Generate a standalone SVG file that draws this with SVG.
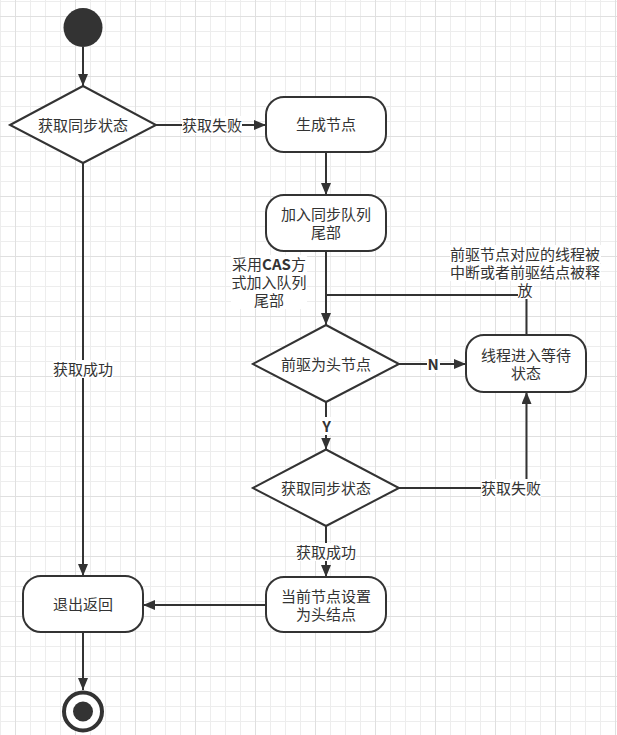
<svg xmlns="http://www.w3.org/2000/svg" width="617" height="735" viewBox="0 0 617 735">
<style>
.t{font-family:"Noto Sans CJK SC","Microsoft YaHei",sans-serif;font-size:15px;fill:#333;text-anchor:middle}
.b{font-weight:bold}
.shape{fill:#fff;stroke:#333;stroke-width:2}
.edge{fill:none;stroke:#333;stroke-width:2}
.arr{marker-end:url(#ah)}
.lbg{fill:#fff}
</style>
<defs>
<pattern id="gmin" patternUnits="userSpaceOnUse" x="0" y="1" width="15" height="15">
<path d="M0.5 0V15M0 0.5H15" stroke="#ededed" stroke-width="1" fill="none"/>
</pattern>
<pattern id="gmaj" patternUnits="userSpaceOnUse" x="15" y="16" width="60" height="60">
<path d="M0.5 0V60M0 0.5H60" stroke="#e0e0e0" stroke-width="1" fill="none"/>
</pattern>
<marker id="ah" markerUnits="userSpaceOnUse" markerWidth="13" markerHeight="11" refX="12" refY="5" orient="auto">
<path d="M0,0 L12,5 L0,10 Z" fill="#333"/>
</marker>
</defs>
<rect width="617" height="735" fill="#fff"/>
<rect width="617" height="735" fill="url(#gmin)"/>
<rect width="617" height="735" fill="url(#gmaj)"/>

<g id="edges">
<g id="e1"><path class="edge arr" d="M83 47V86"/></g>
<g id="e2"><path class="edge arr" d="M156 125H266"/><rect class="lbg" x="182" y="116" width="60" height="18"/><text class="t" x="212" y="130.5">获取失败</text></g>
<g id="e3"><path class="edge arr" d="M326 152V195"/></g>
<g id="e4"><path class="edge arr" d="M326 251V325"/><rect class="lbg" x="231" y="255" width="76" height="54"/><text class="t" x="269" y="269.5">采用<tspan class="b">CAS</tspan>方<tspan x="269" dy="18">式加入队列</tspan><tspan x="269" dy="18">尾部</tspan></text></g>
<g id="e5"><path class="edge" d="M526.5 335V295H326"/><rect class="lbg" x="450" y="245" width="151" height="18"/><rect class="lbg" x="450" y="264" width="151" height="17"/><rect class="lbg" x="518" y="282" width="16" height="17"/><text class="t" x="525" y="259.5">前驱节点对应的线程被<tspan x="525" dy="18">中断或者前驱结点被释</tspan><tspan x="525" dy="18">放</tspan></text></g>
<g id="e6"><path class="edge arr" d="M399 364H466"/><rect class="lbg" x="427" y="355" width="13" height="18"/><text class="t b" x="433" y="369.5">N</text></g>
<g id="e7"><path class="edge arr" d="M326 402V449.5"/><rect class="lbg" x="320" y="417" width="13" height="18"/><text class="t b" x="326.5" y="431.5">Y</text></g>
<g id="e8"><path class="edge arr" d="M399 488H526.5V392"/><rect class="lbg" x="481" y="479" width="60" height="18"/><text class="t" x="511" y="493.5">获取失败</text></g>
<g id="e9"><path class="edge arr" d="M326 526V577"/><rect class="lbg" x="296" y="543" width="60" height="18"/><text class="t" x="326" y="557.5">获取成功</text></g>
<g id="e10"><path class="edge arr" d="M266 605H143"/></g>
<g id="e11"><path class="edge arr" d="M83 163V576"/><rect class="lbg" x="53" y="360" width="60" height="18"/><text class="t" x="83" y="374.5">获取成功</text></g>
<g id="e12"><path class="edge arr" d="M83 632V690"/></g>
</g>

<g id="start"><circle cx="83" cy="27.5" r="19.5" fill="#333"/></g>
<g id="d1"><polygon class="shape" points="10,125 83,86 156,125 83,163"/><text class="t" x="83" y="130.5">获取同步状态</text></g>
<g id="n1"><rect class="shape" x="266" y="97" width="120" height="55" rx="18"/><text class="t" x="326" y="130">生成节点</text></g>
<g id="n2"><rect class="shape" x="266" y="195" width="120" height="56" rx="18"/><text class="t" x="326" y="219.5">加入同步队列<tspan x="326" dy="18">尾部</tspan></text></g>
<g id="d2"><polygon class="shape" points="253,364 326,325 399,364 326,402"/><text class="t" x="326" y="369.5">前驱为头节点</text></g>
<g id="n3"><rect class="shape" x="466" y="335" width="120" height="57" rx="18"/><text class="t" x="526" y="360.5">线程进入等待<tspan x="526" dy="18">状态</tspan></text></g>
<g id="d3"><polygon class="shape" points="253,488 326,449.5 399,488 326,526"/><text class="t" x="326" y="493.5">获取同步状态</text></g>
<g id="n4"><rect class="shape" x="266" y="577" width="120" height="55" rx="18"/><text class="t" x="326" y="601.5">当前节点设置<tspan x="326" dy="18">为头结点</tspan></text></g>
<g id="n5"><rect class="shape" x="23" y="576" width="120" height="56" rx="18"/><text class="t" x="83" y="609.5">退出返回</text></g>
<g id="end"><circle cx="83" cy="711.5" r="19" fill="#fff" stroke="#333" stroke-width="4"/><circle cx="83" cy="711.5" r="10" fill="#333"/></g>
</svg>
